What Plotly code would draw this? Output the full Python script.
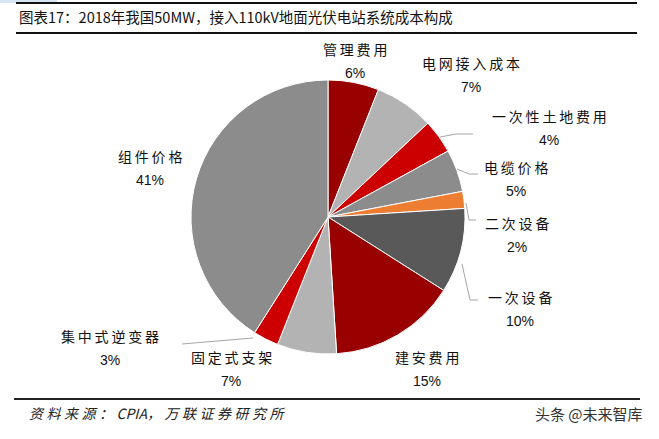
import plotly.graph_objects as go

categories = ["管理费用", "电网接入成本", "一次性土地费用", "电缆价格", "二次设备",
              "一次设备", "建安费用", "固定式支架", "集中式逆变器", "组件价格"]
values = [6, 7, 4, 5, 2, 10, 15, 7, 3, 41]
colors = ["#990000", "#B3B3B3", "#CC0000", "#8C8C8C", "#ED7D31",
          "#595959", "#990000", "#B3B3B3", "#CC0000", "#8C8C8C"]

# label centre positions in pixels (x, y from top)
label_pos = [(355, 49), (471, 63), (549, 116), (516, 167), (517, 223),
             (520, 297), (427, 357), (231, 357), (110, 336), (150, 156)]

W, H = 659, 439
cx, cy, r = 328, 217, 137

SP = "\u2009"
SP2 = "\u2005"

def spaced(s, sp=SP):
    return sp.join(list(s))

fig = go.Figure()
fig.add_trace(go.Pie(
    labels=categories, values=values, sort=False, direction="clockwise",
    rotation=0, textinfo="none", hoverinfo="label+percent",
    marker=dict(colors=colors, line=dict(color="white", width=1)),
    domain=dict(x=[(cx - r) / W, (cx + r) / W], y=[(H - cy - r) / H, (H - cy + r) / H]),
    showlegend=False,
))

font_lbl = dict(family="Noto Sans CJK SC, Liberation Sans", size=14, color="#111")
annotations = []
for name, v, (x, y) in zip(categories, values, label_pos):
    annotations.append(dict(x=x / W, y=1 - y / H, xref="paper", yref="paper",
                            text=spaced(name), showarrow=False, font=font_lbl,
                            xanchor="center", yanchor="middle"))
    annotations.append(dict(x=x / W, y=1 - (y + 24) / H, xref="paper", yref="paper",
                            text=f"{v}%", showarrow=False,
                            font=dict(family="Liberation Sans", size=14, color="#111"),
                            xanchor="center", yanchor="middle"))

annotations.append(dict(x=17 / W, y=1 - 17 / H, xref="paper", yref="paper",
                        text="图表17：2018年我国50MW，接入110kV地面光伏电站系统成本构成",
                        showarrow=False, xanchor="left", yanchor="middle",
                        font=dict(family="Noto Sans CJK SC", size=14.5, color="#111")))
annotations.append(dict(x=27 / W, y=1 - 413 / H, xref="paper", yref="paper",
                        text="<i>" + spaced("资料来源：", SP2) + SP2 + "CPIA，" + SP2
                             + spaced("万联证券研究所", SP2) + "</i>",
                        showarrow=False, xanchor="left", yanchor="middle",
                        font=dict(family="Noto Sans CJK SC", size=14, color="#222")))
annotations.append(dict(x=645 / W, y=1 - 413 / H, xref="paper", yref="paper",
                        text="头条 @未来智库",
                        showarrow=False, xanchor="right", yanchor="middle",
                        font=dict(family="Noto Sans CJK SC", size=15, color="#333")))

def px_line(x0, y0, x1, y1, color="#111", width=2):
    return dict(type="line", xref="paper", yref="paper",
                x0=x0 / W, y0=1 - y0 / H, x1=x1 / W, y1=1 - y1 / H,
                line=dict(color=color, width=width))

def px_path(points, color="#A6A6A6", width=1):
    d = "M " + " L ".join(f"{x / W},{1 - y / H}" for x, y in points)
    return dict(type="path", xref="paper", yref="paper", path=d,
                line=dict(color=color, width=width))

shapes = [
    dict(type="rect", xref="paper", yref="paper", x0=0, x1=57 / W, y0=1 - 3 / H, y1=1,
         fillcolor="#D6E6F5", line=dict(width=0)),
    px_line(16, 3, 637, 3, width=2),
    px_line(16, 33, 637, 33, width=2),
    px_line(14, 399, 640, 399, color="#222", width=2),
    px_path([(440, 137), (456, 134), (473, 134)]),
    px_path([(457, 169), (469, 174), (478, 174)]),
    px_path([(466, 203), (469, 220), (476, 220)]),
    px_path([(462, 264), (470, 300), (478, 300)]),
    px_path([(253, 338), (182, 344)]),
]

fig.update_layout(width=W, height=H, margin=dict(l=0, r=0, t=0, b=0),
                  paper_bgcolor="white", plot_bgcolor="white",
                  annotations=annotations, shapes=shapes)
fig.write_html("out.html")
